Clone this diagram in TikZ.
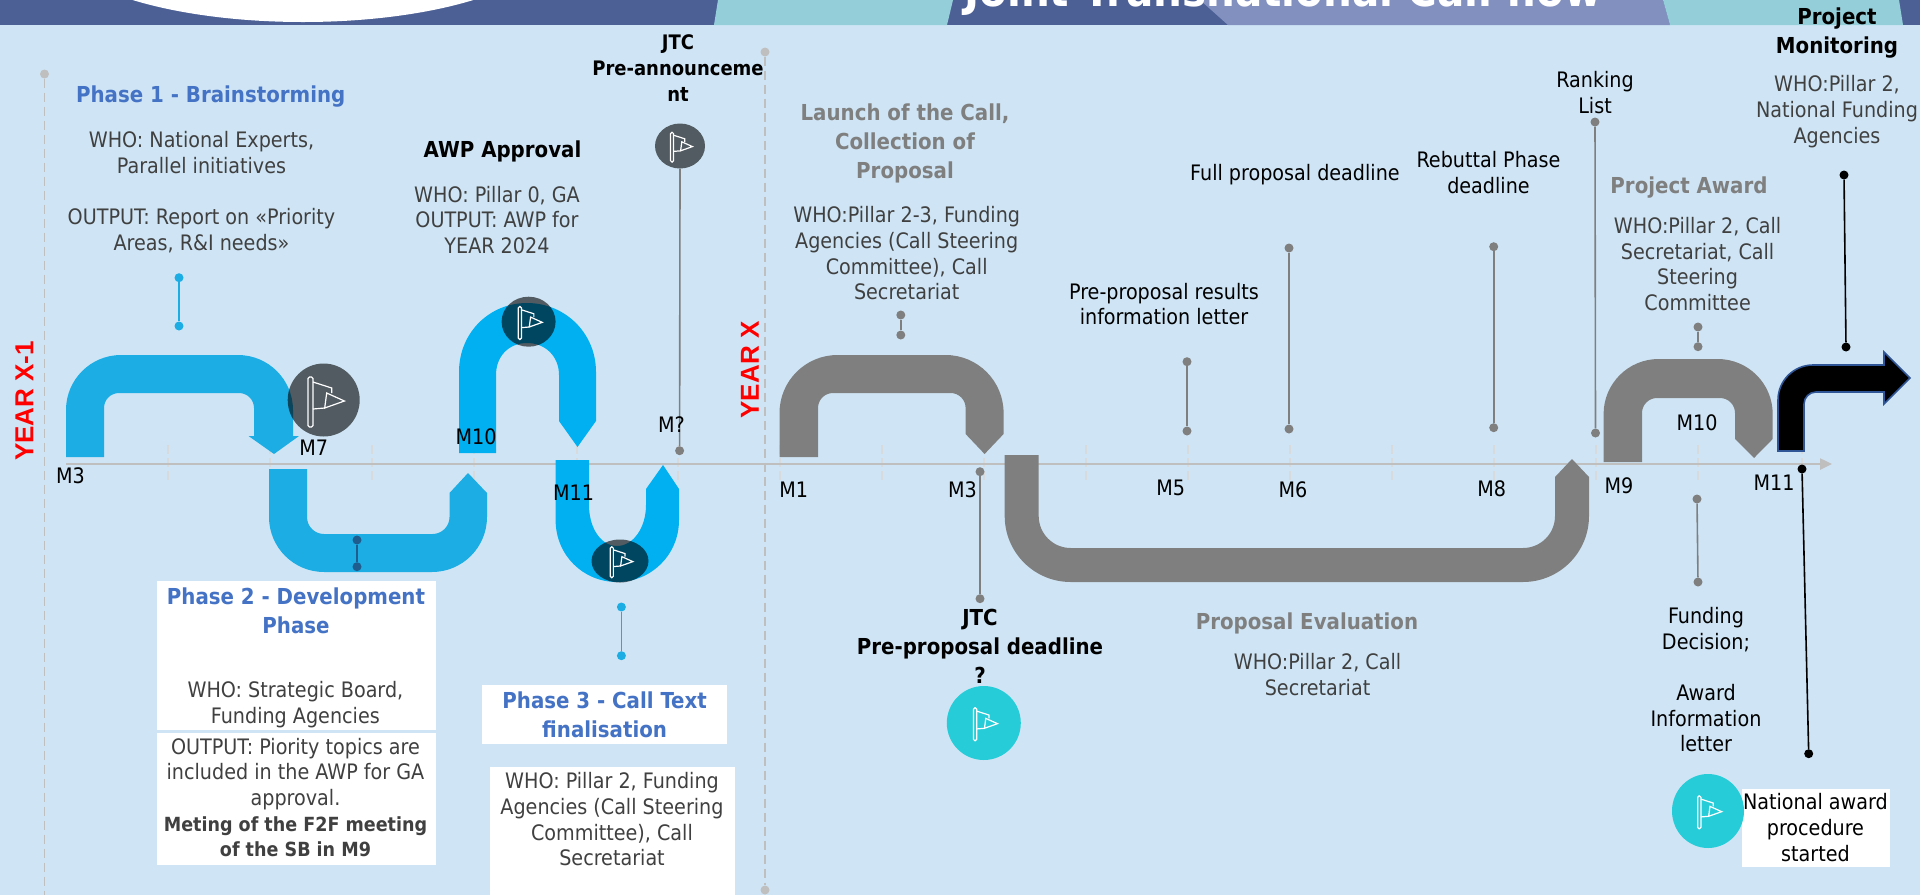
\documentclass[tikz,border=0pt]{standalone}
\usepackage{fontspec}
\setmainfont{DejaVu Sans Condensed}
\newfontfamily\arialb[BoldFont=Liberation Sans Bold]{Liberation Sans}
\usetikzlibrary{shapes.geometric,arrows.meta}
\definecolor{bgc}{HTML}{CFE5F5}
\definecolor{navyc}{HTML}{4C6096}
\definecolor{tealc}{HTML}{94CED9}
\definecolor{peric}{HTML}{8290BF}
\definecolor{axisc}{HTML}{BFBFBF}
\definecolor{tickc}{HTML}{D8DADB}
\definecolor{blueA}{HTML}{1CADE4}
\definecolor{blueB}{HTML}{00B0F0}
\definecolor{greyA}{HTML}{7F7F7F}
\definecolor{txtc}{HTML}{404040}
\definecolor{headc}{HTML}{4472C4}
\definecolor{cyanc}{HTML}{26CDD8}
\definecolor{darkdot}{HTML}{1E5D8E}
\definecolor{edgeb}{HTML}{2F5597}
\tikzset{
  lbl/.style={inner sep=0pt,align=center,font=\fontsize{21.3}{25.7}\selectfont},
  who/.style={lbl,text=txtc},
  blk/.style={lbl,text=black},
  blkb/.style={lbl,text=black,font=\bfseries\fontsize{20}{25.7}\selectfont},
  head/.style={lbl,font=\bfseries\fontsize{22}{29}\selectfont},
  mon/.style={lbl,text=black},
  year/.style={inner sep=0pt,text=red,rotate=90,font=\arialb\bfseries\fontsize{26}{30}\selectfont},
  dotn/.style={circle,fill=#1,inner sep=0pt,minimum size=9pt},
  conn/.style={draw=#1,line width=1.6pt},
  fl/.style={ellipse,inner sep=0pt,fill=black,fill opacity=.6,draw=none},
  tl/.style={ellipse,inner sep=0pt,fill=cyanc,draw=none},
  wbox/.style={fill=white,draw=none},
  vdash/.style={draw=axisc,line width=1.6pt,dash pattern=on 9pt off 5pt},
  tickl/.style={draw=tickc,line width=1.6pt,dash pattern=on 9pt off 4pt},
}
\newcommand\flagat[3]{%
\begin{scope}[shift={(#1,#2)},scale=#3,draw=white,line width=1.2pt]
\draw[rounded corners=1.5pt] (-15.7,-23) rectangle (-10.7,27);
\draw (-10.7,-18) -- (8,-12) -- (8,-7);
\draw (-10.7,9) -- (1,8);
\draw (3,-7) -- (20.7,1) -- (1,8) -- cycle;
\end{scope}}
\newcommand\bt[1]{\bfseries\fontsize{19.5}{25.7}\selectfont #1}
\begin{document}
\begin{tikzpicture}[x=1pt,y=-1pt]
\useasboundingbox (0,0) rectangle (1920,895);
\begin{scope}
\clip (0,0) rectangle (1920,895);
\fill[bgc] (0,0) rectangle (1920,895);
% header
\begin{scope}
\clip (0,0) rectangle (1920,25);
\fill[navyc] (0,0) rectangle (1920,25);
\fill[white] (303,-60) ellipse [x radius=250,y radius=82];
\fill[tealc] (718,0) -- (953,0) -- (947,25) -- (714,25) -- cycle;
\fill[peric] (1200,0) -- (1663,0) -- (1670,25) -- (1228,25) -- cycle;
\fill[tealc] (1663,0) -- (1899,0) -- (1903,25) -- (1670,25) -- cycle;
\node[anchor=base,inner sep=0pt,text=white,font=\bfseries\fontsize{45}{50}\selectfont] (title) at (1283,6) {Joint Transnational Call flow};
\end{scope}
% year dividers
\node[dotn=axisc] (yl1) at (44.5,74) {};
\coordinate (yl1b) at (44.5,895);
\node[dotn=axisc] (yl2) at (765,52) {};
\node[dotn=axisc] (yl2b) at (765,890) {};
\draw[vdash] (yl1) -- (yl1b);
\draw[vdash] (yl2) -- (yl2b);
% axis
\coordinate (axs) at (66,464);
\coordinate (axe) at (1832,464);
\foreach \x in {168,270,372,474,577,678,780,882,984,1086,1188,1290,1392,1494,1596,1698,1802}{
  \draw[tickl] (\x,445) -- (\x,480);
}
\draw[draw=axisc,line width=2.4pt,-{Triangle[length=12pt,width=11pt]}] (axs) -- (axe);
% U arrows
\fill[blueA] (66,457) -- (66,410) [rounded corners=55pt] -- (66,355) -- (293,355) [sharp corners] -- (293,436) -- (299,436) -- (274,454) -- (248.5,436) -- (254,436) [rounded corners=15pt] -- (254,393) -- (104,393) [sharp corners] -- (104,457) -- cycle;
\fill[blueA] (269,469) -- (269,515) [rounded corners=55pt] -- (269,572) -- (487,572) [sharp corners] -- (487,493) -- (468,473) -- (449.5,493) [rounded corners=17pt] -- (449.5,534) -- (307,534) [sharp corners] -- (307,469) -- cycle;
\fill[blueB] (459,453) -- (459,372) .. controls (459,333) and (489,303) .. (527,303) .. controls (565,303) and (596,333) .. (596,372) -- (596,421) -- (577.5,447) -- (559,421) -- (559,375) .. controls (559,356) and (545,343) .. (527,343) .. controls (509,343) and (496,356) .. (496,375) -- (496,453) -- cycle;
\fill[blueB] (555.6,460) -- (555.6,520) .. controls (555.6,555) and (583,582) .. (617,582) .. controls (651,582) and (679,555) .. (679,520) -- (679,489) -- (663,465) -- (646,489) -- (646,505) .. controls (646,528) and (633,546) .. (617,546) .. controls (601,546) and (589,528) .. (589,505) -- (589,460) -- cycle;
\fill[greyA] (779.5,457) -- (779.5,415) [rounded corners=58pt] -- (779.5,355) -- (1003.6,355) [sharp corners] -- (1003.6,434) -- (984.6,454) -- (965.6,434) [rounded corners=15pt] -- (965.6,393) -- (818,393) [sharp corners] -- (818,457) -- cycle;
\fill[greyA] (1004.7,455) -- (1004.7,515) [rounded corners=66pt] -- (1004.7,582) -- (1589,582) [sharp corners] -- (1589,477) -- (1572,459) -- (1555,477) [rounded corners=32pt] -- (1555,548) -- (1038.7,548) [sharp corners] -- (1038.7,455) -- cycle;
\fill[greyA] (1603.6,462) -- (1603.6,420) [rounded corners=55pt] -- (1603.6,359) -- (1772.7,359) [sharp corners] -- (1772.7,439) -- (1754,458) -- (1735,439) [rounded corners=15pt] -- (1735,398) -- (1642,398) [sharp corners] -- (1642,462) -- cycle;
\draw[fill=black,draw=edgeb,line width=1.6pt] (1778,451) -- (1778,400) [rounded corners=35pt] -- (1778,365) [sharp corners] -- (1884,365) -- (1884,352) -- (1910,378) -- (1884,404) -- (1884,392) [rounded corners=12pt] -- (1804,392) [sharp corners] -- (1804,451) -- cycle;
% white boxes
\node[wbox,minimum width=279pt,minimum height=148.7pt,inner sep=0pt] (b1) at (296.5,655.3) {};
\node[wbox,minimum width=279pt,minimum height=131.7pt,inner sep=0pt] (b2) at (296.5,798.8) {};
\node[wbox,minimum width=245pt,minimum height=58.7pt,inner sep=0pt] (b3) at (604.5,714.3) {};
\node[wbox,minimum width=245pt,minimum height=128pt,inner sep=0pt] (b4) at (612.5,831) {};
\node[wbox,minimum width=148pt,minimum height=78pt,inner sep=0pt] (b5) at (1816,828) {};
% flag circles
\node[tl,minimum width=74pt,minimum height=74pt] (f5) at (983.8,723) {};
\node[tl,minimum width=72pt,minimum height=74pt] (f6) at (1708,811) {};
% connectors
\node[dotn=blueA] (c1a) at (179,277.7) {}; \node[dotn=blueA] (c1b) at (179,326) {};
\draw[conn=blueA] (c1a) -- (c1b);
\node[dotn=darkdot] (c2a) at (357,540) {}; \node[dotn=darkdot] (c2b) at (357,566.7) {};
\draw[conn=darkdot] (c2a) -- (c2b);
\node[dotn=blueA] (c3a) at (621.4,607) {}; \node[dotn=blueA] (c3b) at (621.4,655.7) {};
\draw[conn=blueA] (c3a) -- (c3b);
\node[dotn=greyA] (c5a) at (900.8,315) {}; \node[dotn=greyA] (c5b) at (900.8,335) {};
\draw[conn=greyA] (c5a) -- (c5b);
\node[dotn=greyA] (c6a) at (1187,361.7) {}; \node[dotn=greyA] (c6b) at (1187,431) {};
\draw[conn=greyA] (c6a) -- (c6b);
\node[dotn=greyA] (c7a) at (1289,248) {}; \node[dotn=greyA] (c7b) at (1289,429) {};
\draw[conn=greyA] (c7a) -- (c7b);
\node[dotn=greyA] (c8a) at (1493.7,246.7) {}; \node[dotn=greyA] (c8b) at (1493.7,427.7) {};
\draw[conn=greyA] (c8a) -- (c8b);
\node[dotn=greyA] (c9a) at (1595,122) {}; \node[dotn=greyA] (c9b) at (1595.5,433) {};
\draw[conn=greyA] (c9a) -- (c9b);
\node[dotn=greyA] (c10a) at (1698,327) {}; \node[dotn=greyA] (c10b) at (1698,346.7) {};
\draw[conn=greyA] (c10a) -- (c10b);
\node[dotn=black] (c11a) at (1844,175) {}; \node[dotn=black] (c11b) at (1846,347) {};
\draw[conn=black] (c11a) -- (c11b);
\node[dotn=greyA] (c12a) at (980,471.7) {}; \node[dotn=greyA] (c12b) at (980,598.7) {};
\draw[conn=greyA] (c12a) -- (c12b);
\node[dotn=greyA] (c13a) at (1697,499) {}; \node[dotn=greyA] (c13b) at (1698,582) {};
\draw[conn=greyA] (c13a) -- (c13b);
\node[dotn=black] (c14a) at (1802,469) {}; \node[dotn=black] (c14b) at (1808.7,753.7) {};
\draw[conn=black] (c14a) -- (c14b);
% translucent flag circles
\node[fl,minimum width=72pt,minimum height=73pt] (f1) at (323.7,400) {};
\node[fl,minimum width=54pt,minimum height=50pt] (f2) at (528.6,321.7) {};
\node[fl,minimum width=50pt,minimum height=45pt] (f3) at (680,146) {};
\node[fl,minimum width=57pt,minimum height=43pt] (f4) at (620,561) {};
\node[dotn=greyA] (c4b) at (679.6,450.7) {};
\draw[conn=greyA] (f3.south) -- (c4b);
\flagat{323.7}{400}{1}
\flagat{528.6}{321.7}{.66}
\flagat{680}{146}{.6}
\flagat{620}{561}{.62}
\flagat{983.8}{723}{.66}
\flagat{1708}{811}{.66}
% headings
\node[head,text=headc] (t1) at (210.7,97) {Phase 1 - Brainstorming};
\node[who] (t2) at (201.5,192) {WHO: National Experts,\\Parallel initiatives\\[25.7pt]OUTPUT: Report on «Priority\\Areas, R\&I needs»};
\node[head,text=black] (t3) at (502.5,151.5) {AWP Approval};
\node[who] (t4) at (497,220) {WHO: Pillar 0, GA\\OUTPUT: AWP for\\YEAR 2024};
\node[blkb] (t5) at (678,68) {JTC\\Pre-announceme\\nt};
\node[head,text=greyA] (t6) at (905,143.5) {Launch of the Call,\\Collection of\\Proposal};
\node[who] (t7) at (906.7,253.5) {WHO:Pillar 2-3, Funding\\Agencies (Call Steering\\Committee), Call\\Secretariat};
\node[blk] (t8) at (1295,175) {Full proposal deadline};
\node[blk] (t9) at (1164,304) {Pre-proposal results\\information letter};
\node[blk] (t10) at (1488.5,172.5) {Rebuttal Phase\\deadline};
\node[blk] (t11) at (1595,92.5) {Ranking\\List};
\node[head,text=black] (t12) at (1837,33.5) {Project\\Monitoring};
\node[who] (t13) at (1837,111.5) {WHO:Pillar 2,\\National Funding\\Agencies};
\node[head,text=greyA] (t14) at (1689,188) {Project Award};
\node[who] (t15) at (1697.6,264) {WHO:Pillar 2, Call\\Secretariat, Call\\Steering\\Committee};
\node[head,text=headc] (t16) at (296,611) {Phase 2 - Development\\Phase};
\node[who] (t17) at (295.4,704.7) {WHO: Strategic Board,\\Funding Agencies};
\node[who] (t18) at (295.5,797.5) {OUTPUT: Piority topics are\\included in the AWP for GA\\approval.\\\bt{Meting of the F2F meeting}\\\bt{of the SB in M9}};
\node[head,text=headc] (t19) at (604.6,714.3) {Phase 3 - Call Text\\finalisation};
\node[who] (t20) at (612,819.3) {WHO: Pillar 2, Funding\\Agencies (Call Steering\\Committee), Call\\Secretariat};
\node[head,text=black] (t21) at (980,646.5) {JTC\\Pre-proposal deadline\\?};
\node[head,text=greyA] (t22) at (1307,623.5) {Proposal Evaluation};
\node[who] (t23) at (1317.5,674.7) {WHO:Pillar 2, Call\\Secretariat};
\node[blk] (t24) at (1706,679.7) {Funding\\Decision;\\[25.7pt]Award\\Information\\letter};
\node[blk] (t25) at (1815.4,827.7) {National award\\procedure\\started};
% months
\node[mon] (m1) at (70.4,475.7) {M3};
\node[mon] (m2) at (313.8,448) {M7};
\node[mon] (m3) at (476,437) {M10};
\node[mon] (m4) at (671.4,424.7) {M?};
\node[mon] (m5) at (573.5,493) {M11};
\node[mon] (m6) at (793.7,490) {M1};
\node[mon] (m7) at (962.5,490) {M3};
\node[mon] (m8) at (1170.7,488) {M5};
\node[mon] (m9) at (1293,490) {M6};
\node[mon] (m10) at (1491.7,488.3) {M8};
\node[mon] (m11) at (1619,485.7) {M9};
\node[mon] (m12) at (1697,422.7) {M10};
\node[mon] (m13) at (1774,483) {M11};
\node[year] (y1) at (24.5,401) {YEAR X-1};
\node[year] (y2) at (750,370) {YEAR X};
\end{scope}
\end{tikzpicture}
\end{document}
